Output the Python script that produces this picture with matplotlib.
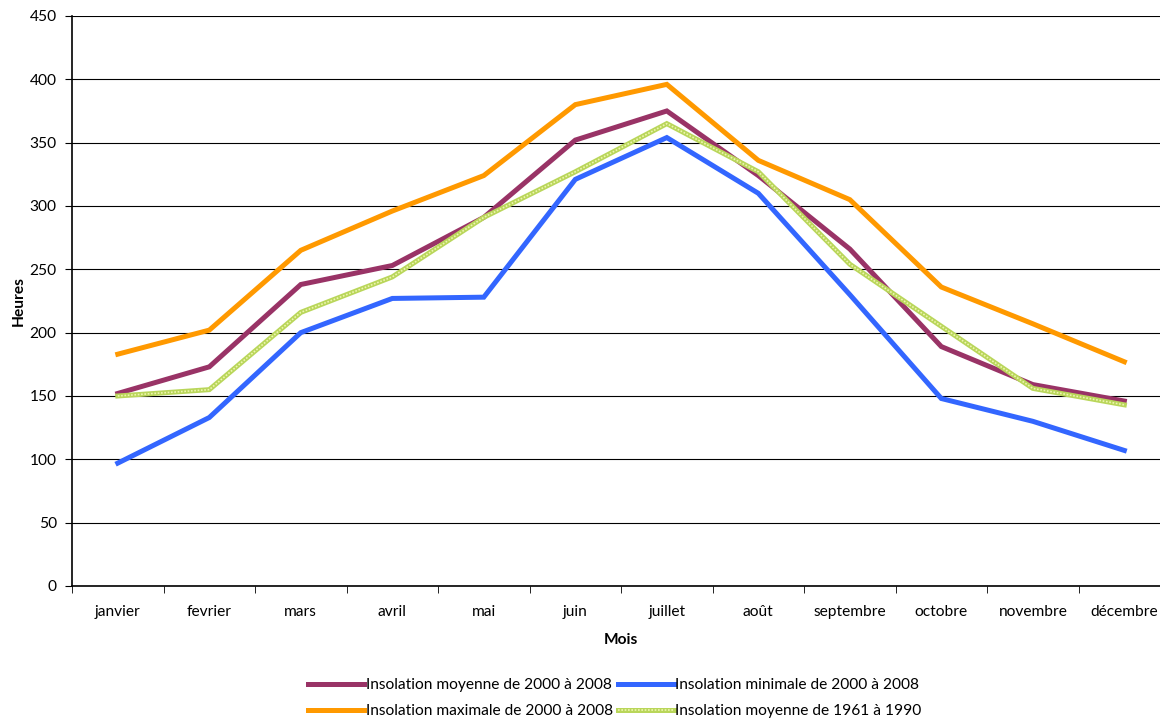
import matplotlib.pyplot as plt
from matplotlib.lines import Line2D
import numpy as np

mois = ['janvier', 'fevrier', 'mars', 'avril', 'mai', 'juin', 'juillet',
        'août', 'septembre', 'octobre', 'novembre', 'décembre']

moyenne_2000_2008 = [152, 173, 238, 253, 291, 352, 375, 324, 266, 189, 159, 146]
maximale_2000_2008 = [183, 202, 265, 296, 324, 380, 396, 336, 305, 236, 207, 177]
minimale_2000_2008 = [97, 133, 200, 227, 228, 321, 354, 310, 230, 148, 130, 107]
moyenne_1961_1990 = [150, 155, 216, 244, 291, 327, 365, 327, 254, 205, 156, 143]

plt.rcParams['font.family'] = ['Lato', 'DejaVu Sans']


def main():
  fig = plt.figure(figsize=(11.6, 7.19), dpi=100)
  ax = fig.add_axes([0.0621, 0.185, 0.9466, 0.7928])

  x = np.arange(len(mois))
  lw = 3.6
  fs = 11.2

  ax.plot(x, maximale_2000_2008, color='#ff9900', lw=lw, solid_joinstyle='miter', zorder=3)
  ax.plot(x, moyenne_2000_2008, color='#993366', lw=lw, solid_joinstyle='miter', zorder=4)
  ax.plot(x, minimale_2000_2008, color='#3366ff', lw=lw, solid_joinstyle='miter', zorder=3)
  # hatched light green line: solid base with a paler dotted overlay
  ax.plot(x, moyenne_1961_1990, color='#b9d65a', lw=lw, solid_joinstyle='miter', zorder=5)
  ax.plot(x, moyenne_1961_1990, color='#eef5b0', lw=1.2, ls=(0, (1, 1)), zorder=6)

  ax.set_xlim(-0.5, len(mois) - 0.5)
  ax.set_ylim(0, 450)
  ax.set_yticks(range(0, 451, 50))
  ax.set_xticks(x)
  ax.set_xticklabels(mois)
  ax.set_xticks(np.arange(-0.5, len(mois), 1), minor=True)
  ax.tick_params(axis='x', which='major', length=0, pad=14, labelsize=fs)
  ax.tick_params(axis='x', which='minor', length=5, direction='out')
  ax.tick_params(axis='y', length=5, direction='out', labelsize=fs, pad=6)

  ax.yaxis.grid(True, color='black', lw=0.8)
  ax.set_axisbelow(True)
  for side in ['top', 'right']:
    ax.spines[side].set_visible(False)
  ax.spines['left'].set_linewidth(1.2)
  ax.spines['bottom'].set_linewidth(1.2)

  ax.set_xlabel('Mois', fontweight='bold', fontsize=fs, labelpad=10)
  ax.set_ylabel('Heures', fontweight='bold', fontsize=fs, labelpad=3)

  green = (Line2D([], [], color='#b9d65a', lw=lw),
           Line2D([], [], color='#eef5b0', lw=1.2, ls=(0, (1, 1))))
  handles = [Line2D([], [], color='#993366', lw=lw),
             Line2D([], [], color='#ff9900', lw=lw),
             Line2D([], [], color='#3366ff', lw=lw),
             green]
  labels = ['Insolation moyenne de 2000 à 2008',
            'Insolation maximale de 2000 à 2008',
            'Insolation minimale de 2000 à 2008',
            'Insolation moyenne de 1961 à 1990']
  fig.legend(handles, labels, ncol=2, loc='center', bbox_to_anchor=(0.53, 0.029),
             frameon=False, fontsize=fs, handlelength=3.6, handletextpad=0.1,
             columnspacing=0.3, labelspacing=0.75)

  fig.savefig('out.png', dpi=100)


if __name__ == '__main__':
  main()
